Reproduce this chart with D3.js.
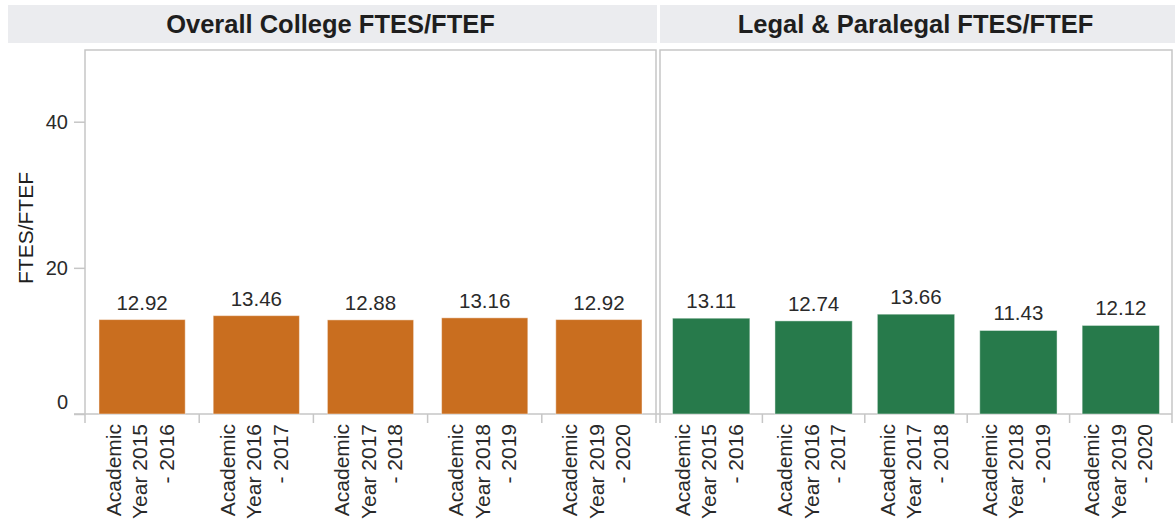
<!DOCTYPE html>
<html>
<head>
<meta charset="utf-8">
<script src="https://cdn.jsdelivr.net/npm/d3@7/dist/d3.min.js"></script>
<style>
  html, body { margin: 0; padding: 0; background: #fff; }
  text { font-family: "Liberation Sans", Arial, Helvetica, sans-serif; }
</style>
</head>
<body>
<script>
// ---- data ----
const categories = [
  "Academic Year 2015 - 2016",
  "Academic Year 2016 - 2017",
  "Academic Year 2017 - 2018",
  "Academic Year 2018 - 2019",
  "Academic Year 2019 - 2020"
];
const panelTitles = ["Overall College FTES/FTEF", "Legal & Paralegal FTES/FTEF"];
const overallValues = [12.92, 13.46, 12.88, 13.16, 12.92];
const legalValues = [13.11, 12.74, 13.66, 11.43, 12.12];
const yTicks = [0, 20, 40];
const yLabel = "FTES/FTEF";
const seriesColors = ["#c96e1f", "#277a4b"];

// ---- layout ----
const W = 1175, H = 529;
const svg = d3.select("body").append("svg").attr("width", W).attr("height", H);

const yBase = 414, yTopFrame = 50;
const y = d3.scaleLinear().domain([0, 50]).range([yBase, yBase - 50 * 7.3075]);

const panels = [
  { title: panelTitles[0], values: overallValues, color: seriesColors[0], x0: 85, x1: 656, hx0: 8, hx1: 657 },
  { title: panelTitles[1], values: legalValues, color: seriesColors[1], x0: 660, x1: 1172, hx0: 660, hx1: 1175 }
];

const gridColor = "#c6c6c6";

// zero line across panels
svg.append("line")
  .attr("x1", 74).attr("x2", 1172)
  .attr("y1", y(0)).attr("y2", y(0))
  .attr("stroke", gridColor).attr("stroke-width", 1.5);

panels.forEach(p => {
  // header
  svg.append("rect")
    .attr("x", p.hx0).attr("y", 5)
    .attr("width", p.hx1 - p.hx0).attr("height", 38)
    .attr("fill", "#ebecef");
  svg.append("text")
    .attr("x", (p.hx0 + p.hx1) / 2 - 2).attr("y", 33)
    .attr("text-anchor", "middle")
    .attr("font-size", 25.5).attr("font-weight", "bold")
    .attr("fill", "#1e1e1e")
    .text(p.title);

  // frame
  svg.append("path")
    .attr("d", `M${p.x0},${yBase}V${yTopFrame}H${p.x1}V${yBase}`)
    .attr("fill", "none").attr("stroke", gridColor).attr("stroke-width", 1.5);

  const x = d3.scaleBand().domain(categories).range([p.x0, p.x1])
    .paddingInner(0.245).paddingOuter(0.1225);
  const gap = (x.step() - x.bandwidth()) / 2;

  // bars
  svg.append("g").selectAll("rect").data(categories).join("rect")
    .attr("x", d => x(d)).attr("width", x.bandwidth())
    .attr("y", (d, i) => y(p.values[i]))
    .attr("height", (d, i) => y(0) - y(p.values[i]))
    .attr("fill", p.color)
    .attr("stroke", "rgba(255,255,255,0.45)").attr("stroke-width", 1);

  // value labels
  svg.append("g").selectAll("text").data(categories).join("text")
    .attr("x", d => x(d) + x.bandwidth() / 2)
    .attr("y", (d, i) => y(p.values[i]) - 10)
    .attr("text-anchor", "middle")
    .attr("font-size", 20.5).attr("fill", "#2a2a2a")
    .text((d, i) => p.values[i].toFixed(2));

  // bottom ticks at band boundaries
  const bounds = categories.map(d => x(d) - gap).concat([x(categories[categories.length - 1]) + x.bandwidth() + gap]);
  svg.append("g").selectAll("line").data(bounds).join("line")
    .attr("x1", d => d).attr("x2", d => d)
    .attr("y1", y(0)).attr("y2", y(0) + 9)
    .attr("stroke", gridColor).attr("stroke-width", 1.5);

  // category labels (rotated, 3 lines)
  const lh = 26.5;
  categories.forEach(c => {
    const m = c.match(/^(\S+)\s+(Year \d+)\s+(- \d+)$/);
    const lines = m ? [m[1], m[2], m[3]] : [c];
    const cx = x(c) + x.bandwidth() / 2;
    lines.forEach((ln, i) => {
      const bx = cx + 5 + (i - (lines.length - 1) / 2) * lh;
      svg.append("text")
        .attr("transform", `translate(${bx},${y(0) + 10}) rotate(-90)`)
        .attr("text-anchor", "end")
        .attr("font-size", 21).attr("fill", "#2a2a2a")
        .text(ln);
    });
  });
});

// y axis
const yAxis = d3.axisLeft(y).tickValues(yTicks).tickSize(11).tickPadding(6).tickFormat(d3.format("d"));
const ga = svg.append("g").attr("transform", `translate(85,0)`).call(yAxis);
ga.select(".domain").remove();
ga.selectAll(".tick line").attr("stroke", gridColor).attr("stroke-width", 1.5);
ga.selectAll(".tick text")
  .attr("font-size", 20).attr("fill", "#2a2a2a")
  .attr("font-family", "Liberation Sans, Arial, sans-serif")
  .attr("dy", d => d === 0 ? "-0.3em" : "0.35em");

// y axis title
svg.append("text")
  .attr("transform", `translate(33,${(yTopFrame + yBase) / 2 - 4}) rotate(-90)`)
  .attr("text-anchor", "middle")
  .attr("font-size", 21).attr("fill", "#1e1e1e")
  .text(yLabel);
</script>
</body>
</html>
